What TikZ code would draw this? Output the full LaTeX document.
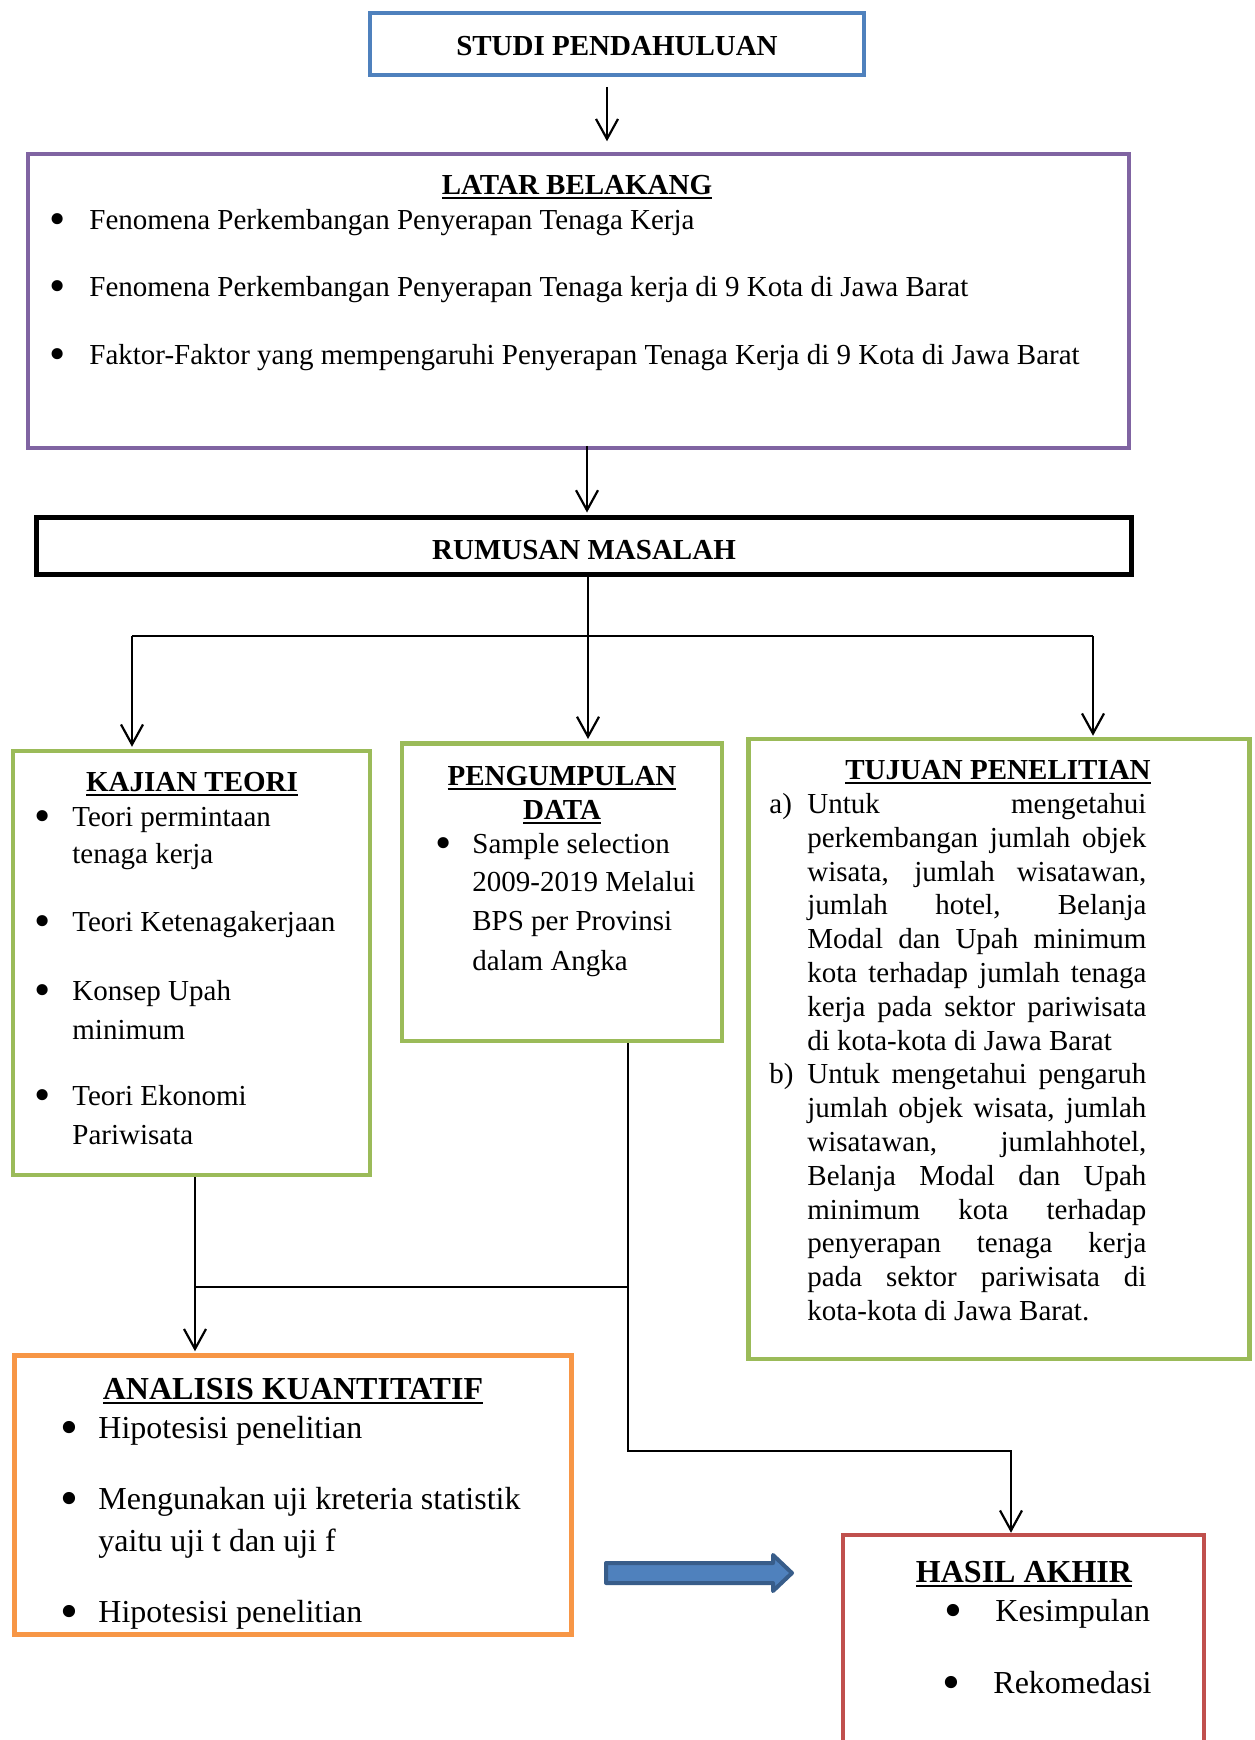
\documentclass[tikz,border=0pt]{standalone}
\usepackage{fontspec}
\setmainfont{Liberation Serif}
\usepackage{graphicx}
\usetikzlibrary{arrows.meta}

\definecolor{biru}{HTML}{4F81BD}
\definecolor{birutua}{HTML}{385D8A}
\definecolor{ungu}{HTML}{8064A2}
\definecolor{hijau}{HTML}{9BBB59}
\definecolor{oranye}{HTML}{F79646}
\definecolor{merah}{HTML}{C0504D}

\newcommand{\hurufisi}{\fontsize{14.5}{17}\selectfont}
\newcommand{\hurufbesar}{\fontsize{16}{19}\selectfont}
\newcommand{\titik}[1]{\llap{\raisebox{-0.2em}{\scalebox{1.6}{\textbullet}}\hspace{#1}}}
\newcommand{\garisbawah}[1]{\setbox0\hbox{#1}\rlap{\rule[-2.6pt]{\wd0}{1.2pt}}\box0}

\tikzset{
  kotak/.style={draw, rectangle, inner sep=0pt},
  judul/.style={font=\hurufisi\bfseries, anchor=base, inner sep=0pt},
  judulbesar/.style={judul, font=\hurufbesar\bfseries},
  isi/.style={font=\hurufisi, anchor=base west, inner sep=0pt},
  isibesar/.style={isi, font=\hurufbesar},
  garis/.style={line width=1.1pt},
  panah/.style={garis, -{Straight Barb[length=10pt,width=11pt]}},
}

\begin{document}
\begin{tikzpicture}[x=0.5pt,y=-0.5pt]
\useasboundingbox (0,0) rectangle (1254,1740);
\clip (0,0) rectangle (1254,1740);

% kotak
\node[kotak, draw=biru, line width=1.75pt, minimum width=247pt, minimum height=31pt] (studi) at (617,44) {};
\node[kotak, draw=ungu, line width=1.75pt, minimum width=550.5pt, minimum height=147pt] (latar) at (578.5,301) {};
\node[kotak, draw=black, line width=2.5pt, minimum width=547.5pt, minimum height=28.5pt] (rumusan) at (584,545.5) {};
\node[kotak, draw=hijau, line width=2.25pt, minimum width=178.5pt, minimum height=212pt] (kajian) at (191.5,963) {};
\node[kotak, draw=hijau, line width=2.25pt, minimum width=160pt, minimum height=148.75pt] (data) at (562,892) {};
\node[kotak, draw=hijau, line width=2.25pt, minimum width=250.5pt, minimum height=310pt] (tujuan) at (998.75,1049) {};
\node[kotak, draw=oranye, line width=2.25pt, minimum width=278.5pt, minimum height=139.5pt] (analisis) at (293,1495) {};
\node[kotak, draw=merah, line width=2.25pt, minimum width=180.5pt, minimum height=125pt] (hasil) at (1023.5,1660) {};

\node[judul] (sdjudul) at (617,55) {STUDI PENDAHULUAN};
\node[judul] (rmjudul) at (584,559) {RUMUSAN MASALAH};

% latar belakang
\node[judul] (lbjudul) at (577,194) {\garisbawah{LATAR BELAKANG}};
\node[isi] (lb1) at (89,229) {\titik{12pt}Fenomena Perkembangan Penyerapan Tenaga Kerja};
\node[isi] (lb2) at (89,296) {\titik{12pt}Fenomena Perkembangan Penyerapan Tenaga kerja di 9 Kota di Jawa Barat};
\node[isi] (lb3) at (89,364) {\titik{12pt}Faktor-Faktor yang mempengaruhi Penyerapan Tenaga Kerja di 9 Kota di Jawa Barat};

% kajian teori
\node[judul] (ktjudul) at (192,791) {\garisbawah{KAJIAN TEORI}};
\node[isi] (kt1) at (72,826) {\titik{11pt}Teori permintaan};
\node[isi] (kt2) at (72,863) {tenaga kerja};
\node[isi] (kt3) at (72,931) {\titik{11pt}Teori Ketenagakerjaan};
\node[isi] (kt4) at (72,1000) {\titik{11pt}Konsep Upah};
\node[isi] (kt5) at (72,1039) {minimum};
\node[isi] (kt6) at (72,1105) {\titik{11pt}Teori Ekonomi};
\node[isi] (kt7) at (72,1144) {Pariwisata};

% pengumpulan data
\node[judul] (pdjudul1) at (562,785) {\garisbawah{PENGUMPULAN}};
\node[judul] (pdjudul2) at (562,819) {\garisbawah{DATA}};
\node[isi] (pd1) at (472,853) {\titik{10.5pt}Sample selection};
\node[isi] (pd2) at (472,891) {2009-2019 Melalui};
\node[isi] (pd3) at (472,930) {BPS per Provinsi};
\node[isi] (pd4) at (472,970) {dalam Angka};

% tujuan penelitian
\node[judul] (tpjudul) at (998,779) {\garisbawah{TUJUAN PENELITIAN}};
\node[font=\fontsize{14.5}{16.9}\selectfont, text width=188.5pt, align=justify, inner sep=0pt,
  anchor=north west] (tpisi) at (769,793) {%
  \hbadness=10000 \tolerance=10000 \hyphenpenalty=10000
  \hangindent=19pt \hangafter=0
  \noindent\llap{\makebox[19pt][l]{a)}}Untuk mengetahui\linebreak
  perkembangan jumlah objek\linebreak
  wisata, jumlah wisatawan,\linebreak
  jumlah hotel, Belanja\linebreak
  Modal dan Upah minimum\linebreak
  kota terhadap jumlah tenaga\linebreak
  kerja pada sektor pariwisata\linebreak
  di kota-kota di Jawa Barat\par
  \hangindent=19pt \hangafter=0
  \noindent\llap{\makebox[19pt][l]{b)}}Untuk mengetahui pengaruh\linebreak
  jumlah objek wisata, jumlah\linebreak
  wisatawan, jumlahhotel,\linebreak
  Belanja Modal dan Upah\linebreak
  minimum kota terhadap\linebreak
  penyerapan tenaga kerja\linebreak
  pada sektor pariwisata di\linebreak
  kota-kota di Jawa Barat.\par};

% analisis kuantitatif
\node[judulbesar] (akjudul) at (293,1399) {\garisbawah{ANALISIS KUANTITATIF}};
\node[isibesar] (ak1) at (98,1438) {\titik{10pt}Hipotesisi penelitian};
\node[isibesar] (ak2) at (98,1509) {\titik{10pt}Mengunakan uji kreteria statistik};
\node[isibesar] (ak3) at (98,1551) {yaitu uji t dan uji f};
\node[isibesar] (ak4) at (98,1622) {\titik{10pt}Hipotesisi penelitian};

% hasil akhir
\node[judulbesar] (hajudul) at (1024,1582) {\garisbawah{HASIL AKHIR}};
\node[isibesar] (ha1) at (995,1621) {\titik{16.5pt}Kesimpulan};
\node[isibesar] (ha2) at (993,1693) {\titik{16.5pt}Rekomedasi};

% panah
\path ([xshift=-5pt]studi.south) coordinate (s0);
\draw[panah, shorten <=5pt, shorten >=5.5pt] (s0) -- (s0 |- latar.north);
\path ([xshift=4.25pt]latar.south) coordinate (l0);
\draw[panah, shorten <=-2pt, shorten >=1pt] (l0) -- (l0 |- rumusan.north);

\path ([xshift=2pt]rumusan.south) coordinate (r0);
\draw[panah, shorten >=1pt] (r0) -- (r0 |- data.north);
\path (kajian.north) ++(-59.5,-113) coordinate (kiri);
\path (tujuan.north) ++(94.25,-101) coordinate (kanan);
\draw[garis] (kiri) -- (kanan);
\draw[panah, shorten >=1pt] (kiri) -- (kiri |- kajian.north);
\draw[panah, shorten >=0.5pt] (kanan) -- (kanan |- tujuan.north);

\path (kajian.south) ++(3.5,0) coordinate (k0);
\draw[panah, shorten >=1pt] (k0) -- (k0 |- analisis.north);
\path (data.south) ++(66,0) coordinate (d0);
\path (d0) ++(0,244) coordinate (temu);
\draw[garis] (temu) -- (temu -| k0);
\draw[panah] (d0) -- ++(0,408) -| ([xshift=-6.25pt]hasil.north);

% panah biru
\draw[fill=biru, draw=birutua, line width=2pt, line join=round]
  (606,1563) -- (773,1563) -- (773,1555) -- (792,1573) -- (773,1591) -- (773,1583) -- (606,1583) -- cycle;
\end{tikzpicture}
\end{document}
